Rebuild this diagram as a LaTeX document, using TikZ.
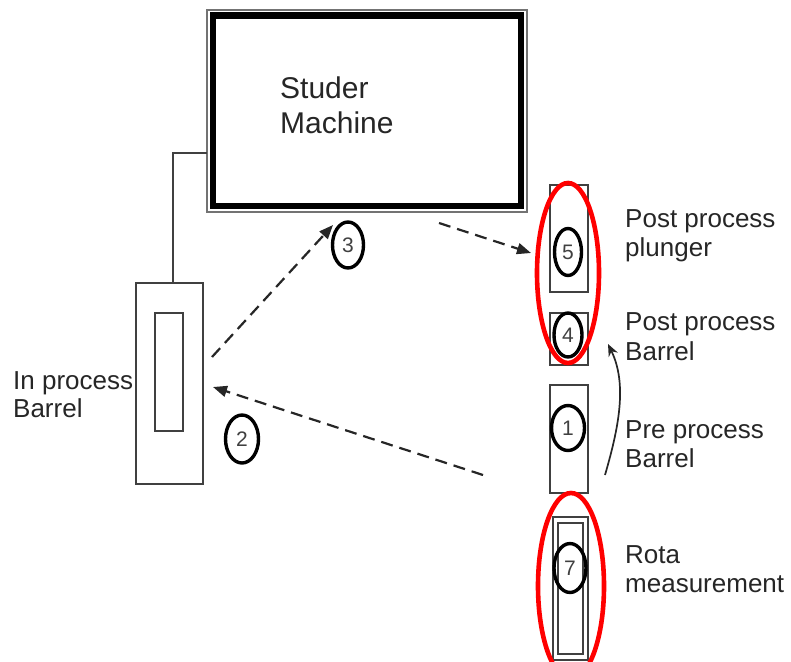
\documentclass[tikz,border=0pt]{standalone}
\usepackage{fontspec}
\setmainfont{Liberation Sans}
\usetikzlibrary{shapes.geometric,arrows.meta}
\begin{document}
\begin{tikzpicture}[x=1pt,y=-1pt,
  lbl/.style={anchor=base west, inner sep=0, align=left, font=\fontsize{26}{29}\selectfont, text=black!85},
  num/.style={ellipse, draw, line width=3.4pt, inner sep=0, minimum width=30pt, minimum height=46pt, font=\fontsize{21}{21}\selectfont, text=black!75},
  box/.style={draw=black!75, line width=1.8pt, inner sep=0, rectangle},
  dasharrow/.style={draw=black!85, dash pattern=on 12pt off 7pt, line width=2.2pt, -{Triangle[length=14pt,width=11pt]}},
  curvearrow/.style={draw=black!85, line width=1.7pt, -{Stealth[length=12pt,width=10pt]}},
  redring/.style={ellipse, draw=red, line width=4.6pt, inner sep=0},
  link/.style={draw=black!75, line width=1.6pt}]
\useasboundingbox (0,0) rectangle (791,661);

% Studer machine
\node[box, draw=black!55, minimum width=320pt, minimum height=202pt] (machine) at (367,111) {};
\draw[line width=6.5pt] ([shift={(7,6.5)}]machine.north west) rectangle ([shift={(-7,-7)}]machine.south east);
\node[lbl, font=\fontsize{30}{35}\selectfont] (studer) at (280,133) {Studer\\Machine};

% In process barrel
\node[box, minimum width=67pt, minimum height=201pt] (ipb) at (169.5,383.5) {};
\node[box, minimum width=28pt, minimum height=118pt] (ipbin) at (169,372) {};
\coordinate (joint) at (207,153);
\draw[link] ([xshift=3.5pt]ipb.north) |- (joint);
\node[lbl, font=\fontsize{26}{28}\selectfont] (ipblbl) at (13,417) {In process\\Barrel};

% right column boxes
\node[box, minimum width=38pt, minimum height=107pt] (b5) at (569,238.5) {};
\node[box, minimum width=38pt, minimum height=52pt] (b4) at (569,339) {};
\node[box, minimum width=38pt, minimum height=108pt] (b1) at (569,439) {};
\node[box, minimum width=35pt, minimum height=143pt] (b7) at (570.5,588.5) {};
\node[box, minimum width=25pt, minimum height=131pt] (b7in) at (570.5,588.5) {};

% numbered circles
\node[num, minimum width=31pt] (c3) at (348,245) {3};
\node[num, minimum width=33pt, minimum height=48pt] (c2) at (242,439) {2};
\node[num, minimum width=27pt, minimum height=47pt] (c5) at (568,252) {5};
\node[num, minimum width=28pt, minimum height=44pt] (c4) at (568,335) {4};
\node[num, minimum width=33pt, minimum height=45pt] (c1) at (568,428) {1};
\node[num, minimum width=32pt, minimum height=49pt] (c7) at (570,568) {7};

% labels
\node[lbl] (l5) at (625,256) {Post process\\plunger};
\node[lbl, font=\fontsize{26}{30}\selectfont] (l4) at (625,360) {Post process\\Barrel};
\node[lbl] (l1) at (625,467) {Pre process\\Barrel};
\node[lbl] (l7) at (625,592) {Rota\\measurement};

% arrows
\coordinate (a3s) at (212,357);
\coordinate (a3e) at (333,225);
\draw[dasharrow] (a3s) -- (a3e);
\coordinate (a2s) at (483,475);
\coordinate (a2e) at (213,387);
\draw[dasharrow] (a2s) -- (a2e);
\coordinate (a5s) at (439,223);
\coordinate (a5e) at (531,253);
\draw[dasharrow] (a5s) -- (a5e);
\coordinate (cas) at (605,475);
\coordinate (cae) at (608,344);
\draw[curvearrow] (cas) .. controls (618,430) and (628,385) .. (cae);

% red highlights
\node[redring, minimum width=62pt, minimum height=180pt] (r1) at (568,273) {};
\node[redring, minimum width=66pt, minimum height=186pt] (r2) at (571,586) {};
\end{tikzpicture}
\end{document}
